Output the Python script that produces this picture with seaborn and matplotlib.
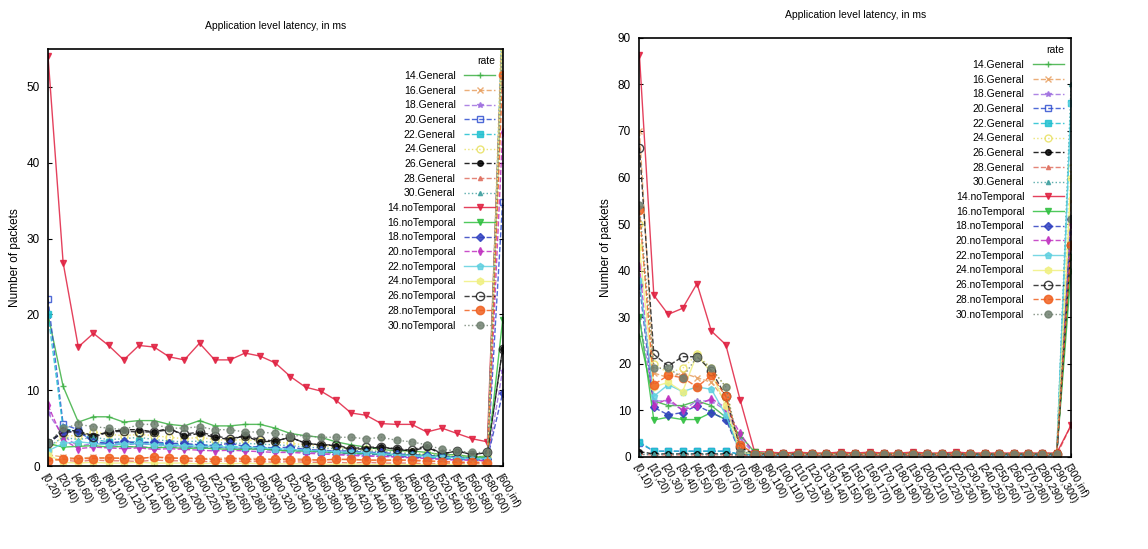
import numpy as np
import pandas as pd
import matplotlib
matplotlib.use("Agg")
import matplotlib.pyplot as plt
import seaborn as sns

# ---- x categories ----
left_bins = [f"[{a},{a + 20})" for a in range(0, 600, 20)] + ["[600,inf)"]
right_bins = [f"[{a},{a + 10})" for a in range(0, 300, 10)] + ["[300,inf)"]

series_names = ["14.General", "16.General", "18.General", "20.General", "22.General",
                "24.General", "26.General", "28.General", "30.General",
                "14.noTemporal", "16.noTemporal", "18.noTemporal", "20.noTemporal",
                "22.noTemporal", "24.noTemporal", "26.noTemporal", "28.noTemporal",
                "30.noTemporal"]

# ---- left panel values (number of packets per bin) ----
l_14_gen = [20, 10.5, 5.8, 6.5, 6.5, 5.8, 6.0, 6.0, 5.5, 5.3, 6.0, 5.3, 5.3, 5.5, 5.5, 5.0,
            4.3, 4.0, 3.8, 3.2, 2.8, 2.5, 2.2, 2.0, 2.0, 1.8, 1.5, 1.5, 1.2, 1.3, 58]
l_16_gen = [1.5, 1.2, 1.0, 1.2, 1.0, 1.1, 1.0, 1.2, 1.0, 1.1, 1.0, 1.0, 1.1, 1.0, 1.0, 0.9,
            1.0, 0.9, 0.8, 0.9, 0.8, 0.8, 0.7, 0.8, 0.7, 0.6, 0.6, 0.5, 0.5, 0.6, 56]
l_18_gen = [7, 4.0, 2.6, 3.0, 2.8, 2.5, 2.6, 2.4, 2.6, 2.5, 2.4, 2.3, 2.5, 2.2, 2.2, 2.0,
            2.0, 1.8, 1.8, 1.6, 1.5, 1.4, 1.3, 1.2, 1.1, 1.0, 0.9, 0.8, 0.8, 0.7, 12.6]
l_20_gen = [22, 5.5, 4.8, 3.0, 3.0, 2.8, 3.0, 2.8, 2.8, 2.6, 2.5, 2.5, 2.4, 2.4, 2.3, 2.2,
            2.2, 2.0, 1.9, 1.8, 1.6, 1.6, 1.5, 1.3, 1.2, 1.1, 1.0, 0.9, 0.8, 0.8, 34.8]
l_22_gen = [20, 5.0, 4.5, 3.5, 3.2, 3.0, 3.3, 3.0, 3.0, 2.8, 2.8, 2.7, 2.6, 2.5, 2.5, 2.3,
            2.2, 2.1, 2.0, 1.9, 1.8, 1.7, 1.6, 1.5, 1.4, 1.2, 1.1, 1.0, 0.9, 0.9, 60]
l_24_gen = [2.0, 4.0, 4.0, 4.5, 4.2, 4.0, 4.2, 4.0, 3.8, 3.6, 3.8, 3.5, 3.4, 3.5, 3.3, 3.2,
            3.0, 2.8, 2.7, 2.5, 2.3, 2.2, 2.0, 1.9, 1.8, 1.6, 1.5, 1.3, 1.2, 1.2, 62]
l_26_gen = [3.0, 4.8, 4.6, 4.0, 4.5, 4.8, 4.8, 4.5, 5.0, 4.0, 4.3, 3.8, 3.5, 4.0, 3.2, 3.3,
            3.8, 3.0, 2.8, 2.7, 2.2, 2.3, 2.5, 2.2, 2.0, 2.5, 1.6, 2.0, 1.5, 1.8, 15.4]
l_28_gen = [1.0, 0.8, 0.6, 0.8, 0.7, 0.7, 0.6, 0.8, 0.7, 0.7, 0.6, 0.6, 0.7, 0.6, 0.6, 0.5,
            0.6, 0.5, 0.5, 0.5, 0.4, 0.5, 0.4, 0.4, 0.4, 0.3, 0.3, 0.3, 0.3, 0.3, 57]
l_30_gen = [2.5, 3.8, 3.5, 3.8, 3.5, 3.6, 3.8, 3.5, 3.3, 3.2, 3.3, 3.1, 3.0, 3.0, 2.9, 2.8,
            2.7, 2.5, 2.4, 2.3, 2.1, 2.0, 1.9, 1.8, 1.6, 1.5, 1.4, 1.2, 1.1, 1.0, 59]
l_14_not = [54.1, 26.8, 15.7, 17.5, 15.9, 14.0, 15.9, 15.7, 14.4, 14.0, 16.2, 14.0, 14.0, 14.9,
            14.5, 13.6, 11.8, 10.4, 9.9, 8.7, 7.0, 6.7, 5.6, 5.5, 5.5, 4.5, 5.0, 4.3, 3.6, 3.2, 58]
l_16_not = [3.0, 2.5, 2.6, 2.7, 2.5, 2.6, 2.5, 2.4, 2.5, 2.3, 2.4, 2.3, 2.2, 2.2, 2.3, 2.1,
            2.0, 2.0, 1.9, 1.8, 1.7, 1.7, 1.6, 1.5, 1.5, 1.4, 1.3, 1.2, 1.1, 1.2, 19.2]
l_18_not = [3.0, 4.5, 4.6, 3.2, 3.0, 3.3, 3.0, 3.2, 3.0, 3.0, 2.8, 2.7, 3.0, 2.6, 2.5, 2.4,
            2.5, 2.2, 2.1, 2.0, 2.0, 1.8, 1.8, 1.6, 1.5, 1.4, 1.3, 1.2, 1.0, 1.0, 9.6]
l_20_not = [8.0, 3.5, 2.3, 2.5, 2.4, 2.3, 2.4, 2.2, 2.3, 2.2, 2.1, 2.0, 2.1, 2.0, 1.9, 1.8,
            1.8, 1.7, 1.6, 1.5, 1.4, 1.3, 1.3, 1.2, 1.1, 1.0, 0.9, 0.8, 0.8, 0.7, 44]
l_22_not = [2.0, 3.0, 3.2, 3.0, 2.8, 2.9, 3.0, 2.8, 2.7, 2.7, 2.6, 2.6, 2.5, 2.5, 2.4, 2.3,
            2.2, 2.1, 2.0, 1.9, 1.8, 1.8, 1.6, 1.5, 1.4, 1.3, 1.2, 1.1, 1.0, 1.0, 57]
l_24_not = [1.5, 0.5, 0.4, 0.5, 0.4, 0.4, 0.5, 0.4, 0.4, 0.4, 0.3, 0.4, 0.3, 0.4, 0.3, 0.3,
            0.3, 0.3, 0.3, 0.2, 0.3, 0.2, 0.2, 0.2, 0.2, 0.2, 0.2, 0.2, 0.1, 0.1, 58]
l_26_not = [3.0, 4.5, 4.5, 3.8, 4.5, 4.6, 4.5, 4.5, 4.8, 4.2, 4.5, 4.0, 3.6, 4.0, 3.5, 3.3,
            3.8, 3.0, 2.8, 2.8, 2.3, 2.5, 2.5, 2.3, 2.1, 2.7, 1.6, 2.0, 1.5, 1.8, 15.4]
l_28_not = [0.7, 0.9, 1.0, 1.0, 1.1, 1.0, 1.0, 1.2, 1.1, 1.0, 1.0, 0.8, 1.0, 0.9, 0.8, 0.9,
            0.8, 0.8, 0.8, 0.9, 0.9, 0.8, 0.8, 0.8, 0.8, 0.7, 0.6, 0.5, 0.5, 0.4, 51.5]
l_30_not = [3.0, 5.0, 5.5, 5.2, 5.0, 4.8, 5.5, 5.5, 5.0, 5.0, 5.2, 4.8, 4.8, 4.5, 4.5, 4.3,
            4.0, 4.0, 3.8, 3.8, 3.8, 3.6, 3.8, 3.4, 3.2, 2.8, 2.2, 2.0, 1.8, 1.8, 56]

# ---- right panel values ----
r_14_gen = [26, 12, 11, 11, 12, 11, 8.5, 1.2, 0.5, 0.5, 0.5, 0.5, 0.5, 0.5, 0.5, 0.5,
            0.5, 0.5, 0.5, 0.5, 0.5, 0.5, 0.5, 0.5, 0.5, 0.5, 0.5, 0.5, 0.5, 0.5, 40]
r_16_gen = [70, 18, 17, 18, 17, 16, 12, 2.5, 0.6, 0.6, 0.6, 0.6, 0.6, 0.6, 0.6, 0.6,
            0.6, 0.6, 0.6, 0.6, 0.6, 0.6, 0.6, 0.6, 0.6, 0.6, 0.6, 0.6, 0.6, 0.6, 55]
r_18_gen = [30, 12, 12, 10, 12, 12, 10, 4.0, 0.5, 0.5, 0.5, 0.5, 0.5, 0.5, 0.5, 0.5,
            0.5, 0.5, 0.5, 0.5, 0.5, 0.5, 0.5, 0.5, 0.5, 0.5, 0.5, 0.5, 0.5, 0.5, 48]
r_20_gen = [3.0, 1.2, 1.2, 1.2, 1.2, 1.2, 1.2, 0.5, 0.4, 0.4, 0.4, 0.4, 0.4, 0.4, 0.4, 0.4,
            0.4, 0.4, 0.4, 0.4, 0.4, 0.4, 0.4, 0.4, 0.4, 0.4, 0.4, 0.4, 0.4, 0.4, 51]
r_22_gen = [3.2, 1.2, 1.2, 1.2, 1.2, 1.2, 1.2, 0.5, 0.4, 0.4, 0.4, 0.4, 0.4, 0.4, 0.4, 0.4,
            0.4, 0.4, 0.4, 0.4, 0.4, 0.4, 0.4, 0.4, 0.4, 0.4, 0.4, 0.4, 0.4, 0.4, 76]
r_24_gen = [50, 20, 18, 19, 22, 19, 15, 1.0, 0.5, 0.5, 0.5, 0.5, 0.5, 0.5, 0.5, 0.5,
            0.5, 0.5, 0.5, 0.5, 0.5, 0.5, 0.5, 0.5, 0.5, 0.5, 0.5, 0.5, 0.5, 0.5, 62]
r_26_gen = [1.1, 0.6, 0.6, 0.6, 0.6, 0.6, 0.6, 0.4, 0.3, 0.3, 0.3, 0.3, 0.3, 0.3, 0.3, 0.3,
            0.3, 0.3, 0.3, 0.3, 0.3, 0.3, 0.3, 0.3, 0.3, 0.3, 0.3, 0.3, 0.3, 0.3, 45.5]
r_28_gen = [0.5, 0.4, 0.4, 0.4, 0.4, 0.4, 0.4, 0.3, 0.3, 0.3, 0.3, 0.3, 0.3, 0.3, 0.3, 0.3,
            0.3, 0.3, 0.3, 0.3, 0.3, 0.3, 0.3, 0.3, 0.3, 0.3, 0.3, 0.3, 0.3, 0.3, 6.8]
r_30_gen = [0.5, 0.5, 0.5, 0.5, 0.5, 0.5, 0.5, 0.4, 0.4, 0.4, 0.4, 0.4, 0.4, 0.4, 0.4, 0.4,
            0.4, 0.4, 0.4, 0.4, 0.4, 0.4, 0.4, 0.4, 0.4, 0.4, 0.4, 0.4, 0.4, 0.4, 80]
r_14_not = [86.3, 34.7, 30.6, 31.9, 37.2, 27.0, 24.1, 12.2, 1.1, 1.0, 0.8, 1.0, 0.8, 0.8, 1.0, 0.8,
            1.0, 0.8, 0.8, 1.0, 0.8, 0.8, 1.0, 0.8, 0.8, 0.8, 0.8, 0.8, 0.8, 0.8, 6.8]
r_16_not = [30, 7.9, 8.5, 8.0, 8.0, 9.5, 8.0, 4.6, 1.0, 0.6, 0.6, 0.6, 0.6, 0.6, 0.6, 0.6,
            0.6, 0.6, 0.6, 0.6, 0.6, 0.6, 0.6, 0.6, 0.6, 0.6, 0.6, 0.6, 0.6, 0.6, 43]
r_18_not = [37, 10.6, 9.0, 9.5, 11.0, 9.5, 8.0, 1.0, 0.6, 0.6, 0.6, 0.6, 0.6, 0.6, 0.6, 0.6,
            0.6, 0.6, 0.6, 0.6, 0.6, 0.6, 0.6, 0.6, 0.6, 0.6, 0.6, 0.6, 0.6, 0.6, 51]
r_20_not = [41, 11, 12.5, 10, 11, 12.5, 10.5, 5.0, 0.6, 0.6, 0.6, 0.6, 0.6, 0.6, 0.6, 0.6,
            0.6, 0.6, 0.6, 0.6, 0.6, 0.6, 0.6, 0.6, 0.6, 0.6, 0.6, 0.6, 0.6, 0.6, 50]
r_22_not = [38, 13, 15.5, 14, 15, 14.5, 9.0, 1.0, 0.6, 0.6, 0.6, 0.6, 0.6, 0.6, 0.6, 0.6,
            0.6, 0.6, 0.6, 0.6, 0.6, 0.6, 0.6, 0.6, 0.6, 0.6, 0.6, 0.6, 0.6, 0.6, 76]
r_24_not = [45, 15, 16, 14, 22, 18, 11, 1.0, 0.6, 0.6, 0.6, 0.6, 0.6, 0.6, 0.6, 0.6,
            0.6, 0.6, 0.6, 0.6, 0.6, 0.6, 0.6, 0.6, 0.6, 0.6, 0.6, 0.6, 0.6, 0.6, 60]
r_26_not = [66.4, 22, 19.5, 21.5, 21.5, 18.5, 13, 2.0, 0.6, 0.6, 0.6, 0.6, 0.6, 0.6, 0.6, 0.6,
            0.6, 0.6, 0.6, 0.6, 0.6, 0.6, 0.6, 0.6, 0.6, 0.6, 0.6, 0.6, 0.6, 0.6, 45.5]
r_28_not = [53, 15.5, 17.5, 17, 15, 17.5, 13, 2.5, 0.7, 0.7, 0.7, 0.7, 0.7, 0.7, 0.7, 0.7,
            0.7, 0.7, 0.7, 0.7, 0.7, 0.7, 0.7, 0.7, 0.7, 0.7, 0.7, 0.7, 0.7, 0.7, 45.5]
r_30_not = [54, 19, 19, 17, 21.5, 19, 15, 1.0, 0.7, 0.7, 0.7, 0.7, 0.7, 0.7, 0.7, 0.7,
            0.7, 0.7, 0.7, 0.7, 0.7, 0.7, 0.7, 0.7, 0.7, 0.7, 0.7, 0.7, 0.7, 0.7, 51]

left_values = [l_14_gen, l_16_gen, l_18_gen, l_20_gen, l_22_gen, l_24_gen, l_26_gen, l_28_gen,
               l_30_gen, l_14_not, l_16_not, l_18_not, l_20_not, l_22_not, l_24_not, l_26_not,
               l_28_not, l_30_not]
right_values = [r_14_gen, r_16_gen, r_18_gen, r_20_gen, r_22_gen, r_24_gen, r_26_gen, r_28_gen,
                r_30_gen, r_14_not, r_16_not, r_18_not, r_20_not, r_22_not, r_24_not, r_26_not,
                r_28_not, r_30_not]

# gnuplot-like styles: color, marker, marker filled?, linestyle, marker size
styles = {
    "14.General": ("#3cb043", "+", True, "-", 4),
    "16.General": ("#e8a060", "x", True, "--", 4),
    "18.General": ("#a070e0", "*", True, "--", 4),
    "20.General": ("#3050d0", "s", False, "--", 5),
    "22.General": ("#20c0d0", "s", True, "--", 5),
    "24.General": ("#e8e060", "o", False, ":", 5),
    "26.General": ("#000000", "o", True, "--", 4),
    "28.General": ("#e07060", "^", True, "--", 3),
    "30.General": ("#40a0a0", "^", True, ":", 3),
    "14.noTemporal": ("#e02040", "v", True, "-", 4),
    "16.noTemporal": ("#30c040", "v", True, "-", 4),
    "18.noTemporal": ("#3040c0", "D", True, "--", 4),
    "20.noTemporal": ("#c030c0", "d", True, "--", 4),
    "22.noTemporal": ("#60d0e0", "p", True, "-", 5),
    "24.noTemporal": ("#f0f080", "h", True, "-", 5),
    "26.noTemporal": ("#202020", "o", False, "--", 6),
    "28.noTemporal": ("#f06020", "o", True, "--", 6),
    "30.noTemporal": ("#708070", "o", True, ":", 5),
}

plt.rcParams["font.family"] = ["Liberation Sans", "DejaVu Sans"]

fig = plt.figure(figsize=(11.48, 5.49), dpi=100)
ax_l = fig.add_axes([0.0418, 0.151, 0.396, 0.760])
ax_r = fig.add_axes([0.557, 0.168, 0.376, 0.763])


def draw(ax, bins, values, ymax, title_pad):
    for name, vals in zip(series_names, values):
        col, mk, filled, ls, ms = styles[name]
        df = pd.DataFrame({"bin": bins, "count": vals})
        sns.lineplot(data=df, x="bin", y="count", ax=ax, sort=False, color=col,
                     linestyle=ls, linewidth=1.0, marker=mk, markersize=ms,
                     markerfacecolor=col if filled else "none", markeredgecolor=col,
                     markeredgewidth=1.0, alpha=0.85, label=name)
    ax.set_ylim(0, ymax)
    ax.set_xlim(0, len(bins) - 1)
    ax.set_yticks(np.arange(0, ymax + 1, 10))
    ax.set_xticks(range(len(bins)))
    ax.set_xticklabels(bins, rotation=-60, ha="left", rotation_mode="anchor", fontsize=7.5)
    ax.tick_params(axis="y", labelsize=8.5, direction="in", right=True, length=3, pad=6)
    ax.tick_params(axis="x", direction="in", length=3, pad=4)
    ax.set_xlabel("")
    ax.set_ylabel("Number of packets", fontsize=8.5)
    ax.set_title("Application level latency, in ms", fontsize=7.5, pad=title_pad)
    for sp in ax.spines.values():
        sp.set_linewidth(1.2)
    leg = ax.legend(title="rate", loc="upper right", frameon=False, fontsize=7.5,
                    title_fontsize=7.5, markerfirst=False, handlelength=3.0,
                    labelspacing=0.45, borderaxespad=0.3)
    leg._legend_box.align = "right"


draw(ax_l, left_bins, left_values, 55, 14)
draw(ax_r, right_bins, right_values, 90, 14)

fig.savefig("out.png", dpi=100)
